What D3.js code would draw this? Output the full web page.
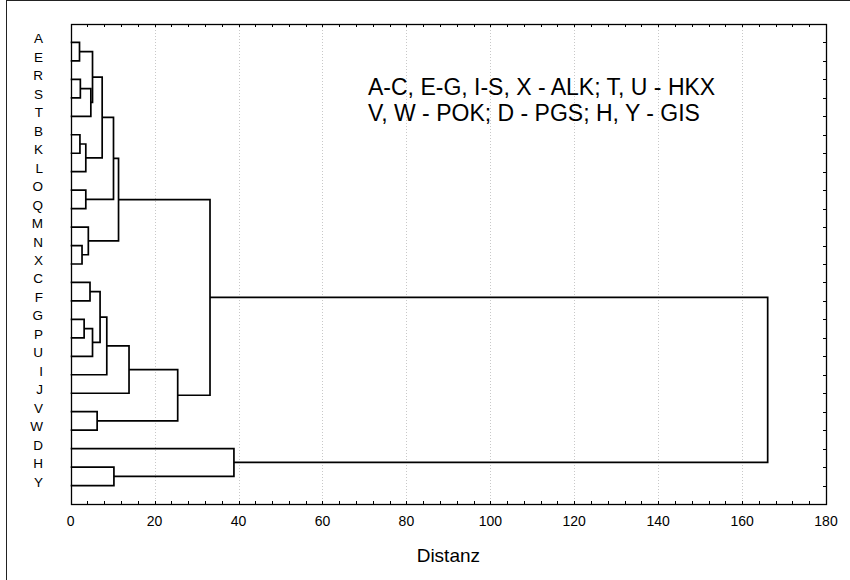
<!DOCTYPE html>
<html>
<head>
<meta charset="utf-8">
<script src="https://cdn.jsdelivr.net/npm/d3@7"></script>
<style>
  body { margin: 0; background: #fff; }
  svg { display: block; font-family: "Liberation Sans", Arial, sans-serif; }
</style>
</head>
<body>
<script>
// leaf order, top to bottom
var leaves = ['A','E','R','S','T','B','K','L','O','Q','M','N','X',
              'C','F','G','P','U','I','J','V','W','D','H','Y'];

// merges: [left, right, distance], merged cluster gets id 'm' + index
var merges = [
  ['A','E', 2.1],      // m0
  ['R','S', 2.3],      // m1
  ['m1','T', 4.8],     // m2
  ['m0','m2', 5.2],    // m3
  ['B','K', 2.2],      // m4
  ['m4','L', 3.6],     // m5
  ['m3','m5', 7.5],    // m6
  ['O','Q', 3.6],      // m7
  ['m6','m7', 10.2],   // m8
  ['N','X', 2.7],      // m9
  ['M','m9', 4.2],     // m10
  ['m8','m10', 11.4],  // m11
  ['C','F', 4.6],      // m12
  ['G','P', 3.2],      // m13
  ['m13','U', 5.2],    // m14
  ['m12','m14', 7.0],  // m15
  ['m15','I', 8.6],    // m16
  ['m16','J', 13.9],   // m17
  ['V','W', 6.3],      // m18
  ['m17','m18', 25.5], // m19
  ['m11','m19', 33.2], // m20
  ['H','Y', 10.3],     // m21
  ['D','m21', 38.9],   // m22
  ['m20','m22', 166.1] // m23
];

var xTicks = [0, 20, 40, 60, 80, 100, 120, 140, 160, 180];
var noteLines = ['A-C, E-G, I-S, X - ALK; T, U - HKX',
                 'V, W - POK; D - PGS; H, Y - GIS'];
var xTitle = 'Distanz';

var width = 850, height = 580;
var plot = {left: 70.7, right: 826, top: 24, bottom: 504};

var svg = d3.select('body').append('svg')
    .attr('width', width).attr('height', height);

// outer frame (left + top edge)
svg.append('line').attr('x1', 6.5).attr('x2', 6.5).attr('y1', 0).attr('y2', height)
    .attr('stroke', '#222');
svg.append('line').attr('x1', 6).attr('x2', width).attr('y1', 0.5).attr('y2', 0.5)
    .attr('stroke', '#222');

var x = d3.scaleLinear().domain([0, 180]).range([plot.left, plot.right]);
var y = d3.scalePoint().domain(leaves).range([plot.top, plot.bottom]).padding(1);

// grid
svg.append('g').selectAll('line')
  .data(xTicks.filter(function(t){ return t > 0 && t < 180; }))
  .join('line')
    .attr('x1', function(d){ return Math.round(x(d)) + 0.5; })
    .attr('x2', function(d){ return Math.round(x(d)) + 0.5; })
    .attr('y1', plot.top).attr('y2', plot.bottom)
    .attr('stroke', '#c8c8c8').attr('stroke-dasharray', '1,2');

// minor ticks every 4 units, top and bottom, pointing inward
var minor = d3.range(0, 181, 4);
var tickG = svg.append('g').attr('stroke', '#000').attr('stroke-width', 1);
tickG.selectAll('.tb').data(minor).join('line').attr('class', 'tb')
    .attr('x1', function(d){ return Math.round(x(d)) + 0.5; })
    .attr('x2', function(d){ return Math.round(x(d)) + 0.5; })
    .attr('y1', plot.bottom).attr('y2', plot.bottom - 3);
tickG.selectAll('.tt').data(minor).join('line').attr('class', 'tt')
    .attr('x1', function(d){ return Math.round(x(d)) + 0.5; })
    .attr('x2', function(d){ return Math.round(x(d)) + 0.5; })
    .attr('y1', plot.top).attr('y2', plot.top + 3);
// leaf ticks on right side
tickG.selectAll('.tr').data(leaves).join('line').attr('class', 'tr')
    .attr('x1', plot.right).attr('x2', plot.right - 3)
    .attr('y1', function(d){ return Math.round(y(d)) + 0.5; })
    .attr('y2', function(d){ return Math.round(y(d)) + 0.5; });

// plot frame
svg.append('rect')
    .attr('x', Math.round(plot.left) + 0.5).attr('y', plot.top + 0.5)
    .attr('width', Math.round(plot.right) - Math.round(plot.left))
    .attr('height', plot.bottom - plot.top)
    .attr('fill', 'none').attr('stroke', '#000').attr('stroke-width', 1.3);

// x tick labels
svg.append('g').selectAll('text').data(xTicks).join('text')
    .attr('x', function(d){ return x(d); })
    .attr('y', plot.bottom + 22)
    .attr('text-anchor', 'middle')
    .attr('font-size', 14)
    .text(function(d){ return d; });

// leaf labels
svg.append('g').selectAll('text').data(leaves).join('text')
    .attr('x', 43)
    .attr('y', function(d){ return y(d) + 1; })
    .attr('text-anchor', 'end')
    .attr('font-size', 13.5)
    .text(function(d){ return d; });

// build node positions
var nodes = {};
leaves.forEach(function(l){ nodes[l] = {x: 0, y: y(l)}; });
merges.forEach(function(m, i){
  var a = nodes[m[0]], b = nodes[m[1]];
  nodes['m' + i] = {x: m[2], y: (a.y + b.y) / 2, a: a, b: b};
});

var line = svg.append('g')
    .attr('fill', 'none').attr('stroke', '#000').attr('stroke-width', 1.7);
line.selectAll('path').data(merges.map(function(m, i){ return nodes['m' + i]; }))
  .join('path')
    .attr('d', function(n){
      return 'M' + x(n.a.x) + ',' + n.a.y +
             'H' + x(n.x) +
             'V' + n.b.y +
             'H' + x(n.b.x);
    });

// note text, one text per line
svg.append('g').selectAll('text').data(noteLines).join('text')
    .attr('x', 368)
    .attr('y', function(d, i){ return 95 + i * 26; })
    .attr('font-size', 23)
    .text(function(d){ return d; });

// x title
svg.append('text')
    .attr('x', (plot.left + plot.right) / 2)
    .attr('y', 562)
    .attr('text-anchor', 'middle')
    .attr('font-size', 19)
    .text(xTitle);
</script>
</body>
</html>
